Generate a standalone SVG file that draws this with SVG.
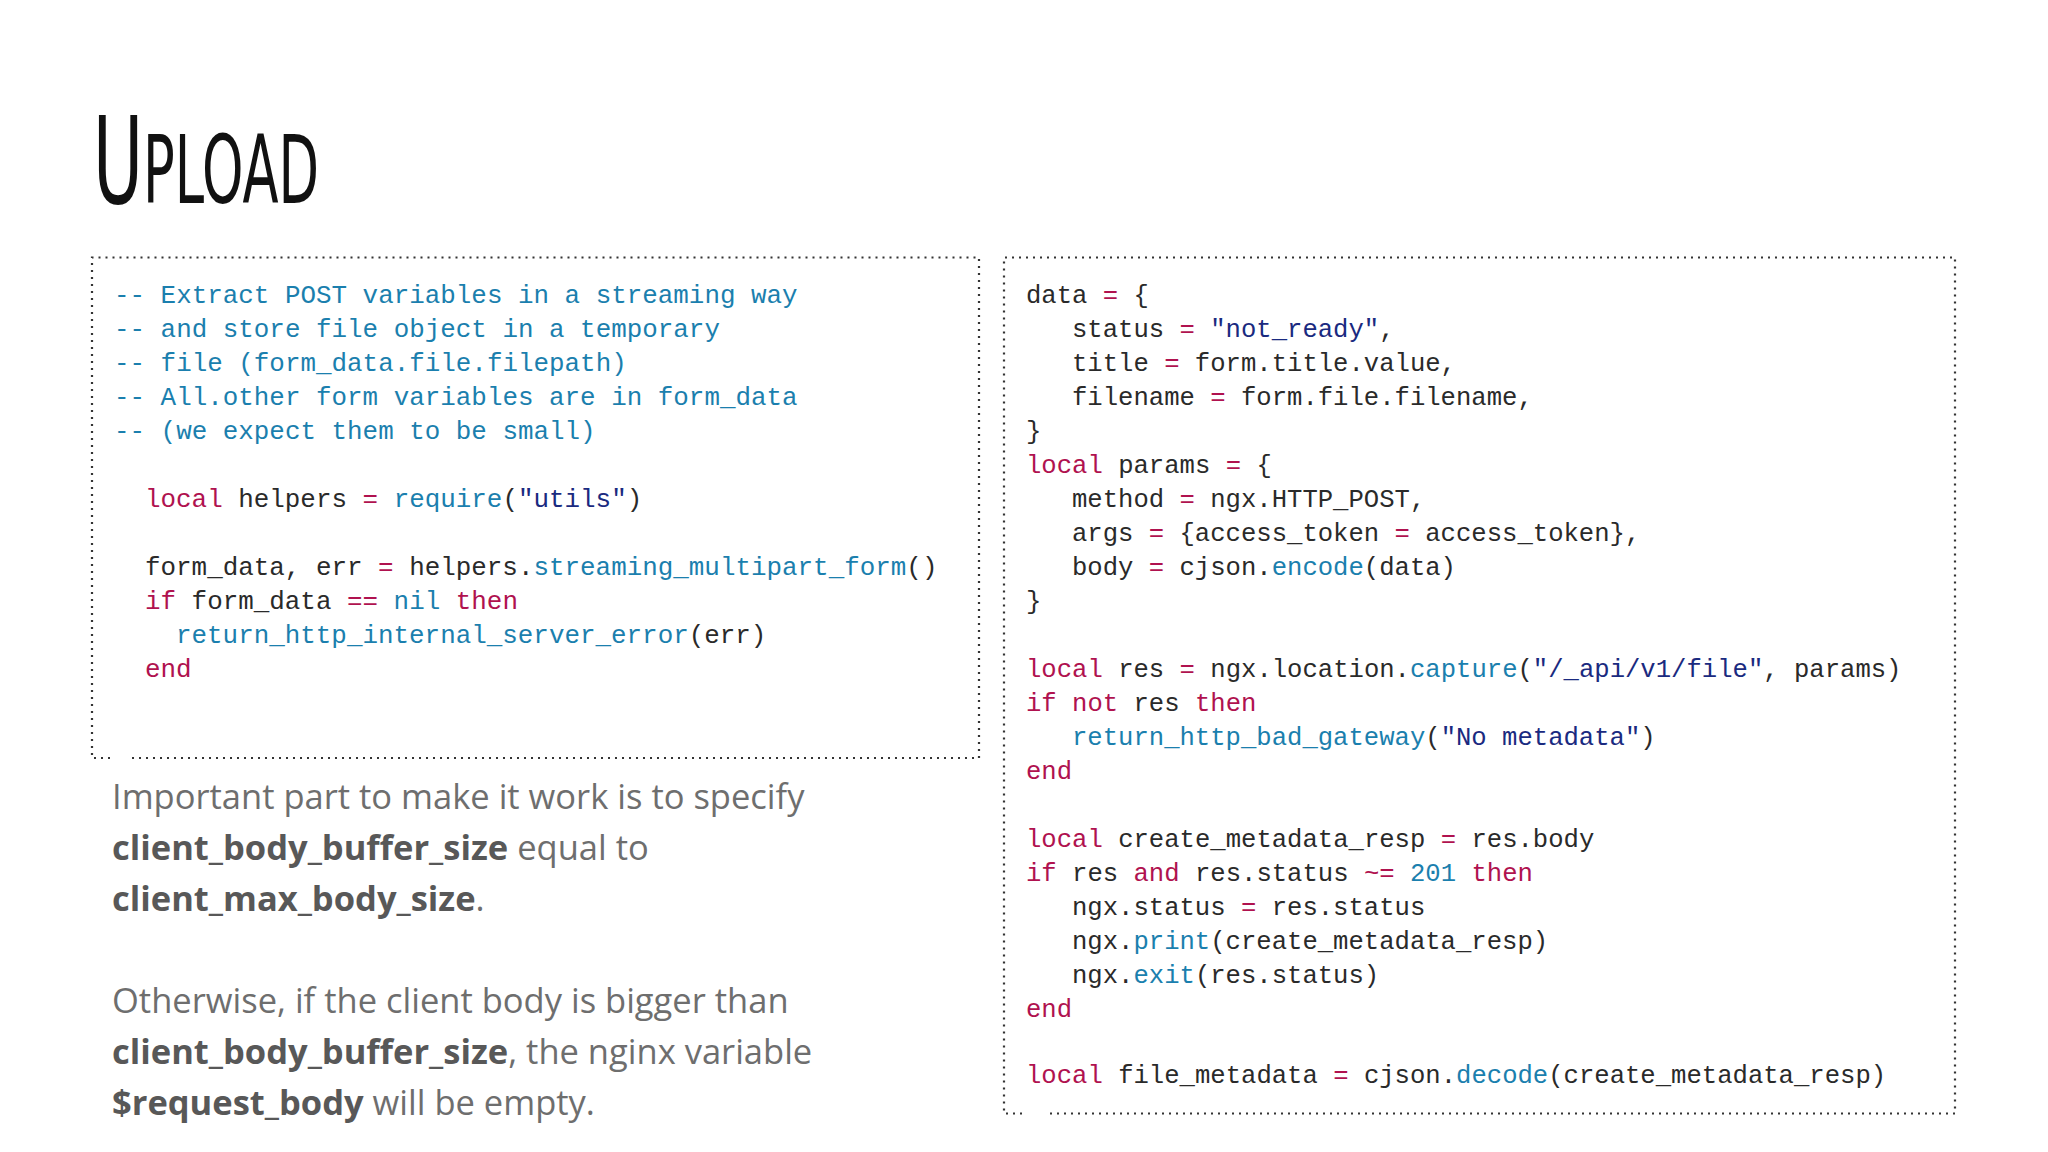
<svg xmlns="http://www.w3.org/2000/svg" width="2048" height="1152" viewBox="0 0 2048 1152">
<style>
.c{font-family:"Liberation Mono","DejaVu Sans Mono",monospace;fill:#2a2a2a;white-space:pre}
.l{font-size:25.9px}.r{font-size:25.6px}
.cm{fill:#1b7fae}.k{fill:#b0124f}.s{fill:#1a2a80}.f{fill:#1b7fae}
.p{font-family:"Open Sans","Liberation Sans",sans-serif;font-size:34.5px;fill:#6e6e6e}
.b{font-weight:bold;fill:#585858}
.box{fill:none;stroke:#333;stroke-width:2.2;stroke-dasharray:2 5}
</style>
<rect width="2048" height="1152" fill="#fff"/>
<g id="title"><text x="93" y="203" font-family="'DejaVu Sans Condensed','Liberation Sans Narrow',sans-serif" font-size="122" fill="#111" textLength="226" lengthAdjust="spacingAndGlyphs">U<tspan font-size="94">PLOAD</tspan></text></g>
<g id="left-box">
<path class="box" d="M110 758 H92 V257.5 H979 V758 H131"/>
<text class="c l"><tspan class="cm" x="114" y="303">-- Extract POST variables in a streaming way</tspan><tspan class="cm" x="114" y="337">-- and store file object in a temporary</tspan><tspan class="cm" x="114" y="371">-- file (form_data.file.filepath)</tspan><tspan class="cm" x="114" y="405">-- All.other form variables are in form_data</tspan><tspan class="cm" x="114" y="439">-- (we expect them to be small)</tspan><tspan x="145" y="507"><tspan class="k">local</tspan> helpers <tspan class="k">=</tspan> <tspan class="f">require</tspan>(<tspan class="s">"utils"</tspan>)</tspan><tspan x="145" y="575">form_data, err <tspan class="k">=</tspan> helpers.<tspan class="f">streaming_multipart_form</tspan>()</tspan><tspan x="145" y="609"><tspan class="k">if</tspan> form_data <tspan class="k">==</tspan> <tspan class="f">nil</tspan> <tspan class="k">then</tspan></tspan><tspan x="176" y="643"><tspan class="f">return_http_internal_server_error</tspan>(err)</tspan><tspan class="k" x="145" y="677">end</tspan></text>
</g>
<g id="right-box">
<path class="box" d="M1022 1113.5 H1004 V257.5 H1955 V1113.5 H1046"/>
<text class="c r"><tspan x="1026" y="303">data <tspan class="k">=</tspan> {</tspan><tspan x="1072" y="337">status <tspan class="k">=</tspan> <tspan class="s">"not_ready"</tspan>,</tspan><tspan x="1072" y="371">title <tspan class="k">=</tspan> form.title.value,</tspan><tspan x="1072" y="405">filename <tspan class="k">=</tspan> form.file.filename,</tspan><tspan x="1026" y="439">}</tspan><tspan x="1026" y="473"><tspan class="k">local</tspan> params <tspan class="k">=</tspan> {</tspan><tspan x="1072" y="507">method <tspan class="k">=</tspan> ngx.HTTP_POST,</tspan><tspan x="1072" y="541">args <tspan class="k">=</tspan> {access_token <tspan class="k">=</tspan> access_token},</tspan><tspan x="1072" y="575">body <tspan class="k">=</tspan> cjson.<tspan class="f">encode</tspan>(data)</tspan><tspan x="1026" y="609">}</tspan><tspan x="1026" y="677"><tspan class="k">local</tspan> res <tspan class="k">=</tspan> ngx.location.<tspan class="f">capture</tspan>(<tspan class="s">"/_api/v1/file"</tspan>, params)</tspan><tspan x="1026" y="711"><tspan class="k">if</tspan> <tspan class="k">not</tspan> res <tspan class="k">then</tspan></tspan><tspan x="1072" y="745"><tspan class="f">return_http_bad_gateway</tspan>(<tspan class="s">"No metadata"</tspan>)</tspan><tspan class="k" x="1026" y="779">end</tspan><tspan x="1026" y="847"><tspan class="k">local</tspan> create_metadata_resp <tspan class="k">=</tspan> res.body</tspan><tspan x="1026" y="881"><tspan class="k">if</tspan> res <tspan class="k">and</tspan> res.status <tspan class="k">~=</tspan> <tspan class="f">201</tspan> <tspan class="k">then</tspan></tspan><tspan x="1072" y="915">ngx.status <tspan class="k">=</tspan> res.status</tspan><tspan x="1072" y="949">ngx.<tspan class="f">print</tspan>(create_metadata_resp)</tspan><tspan x="1072" y="983">ngx.<tspan class="f">exit</tspan>(res.status)</tspan><tspan class="k" x="1026" y="1017">end</tspan><tspan x="1026" y="1083"><tspan class="k">local</tspan> file_metadata <tspan class="k">=</tspan> cjson.<tspan class="f">decode</tspan>(create_metadata_resp)</tspan></text>
</g>
<g id="note">
<text class="p"><tspan x="112" y="809">Important part to make it work is to specify</tspan><tspan x="112" y="860"><tspan class="b">client_body_buffer_size</tspan> equal to</tspan><tspan x="112" y="911"><tspan class="b">client_max_body_size</tspan>.</tspan><tspan x="112" y="1013">Otherwise, if the client body is bigger than</tspan><tspan x="112" y="1064"><tspan class="b">client_body_buffer_size</tspan>, the nginx variable</tspan><tspan x="112" y="1115"><tspan class="b">$request_body</tspan> will be empty.</tspan></text>
</g>
</svg>
